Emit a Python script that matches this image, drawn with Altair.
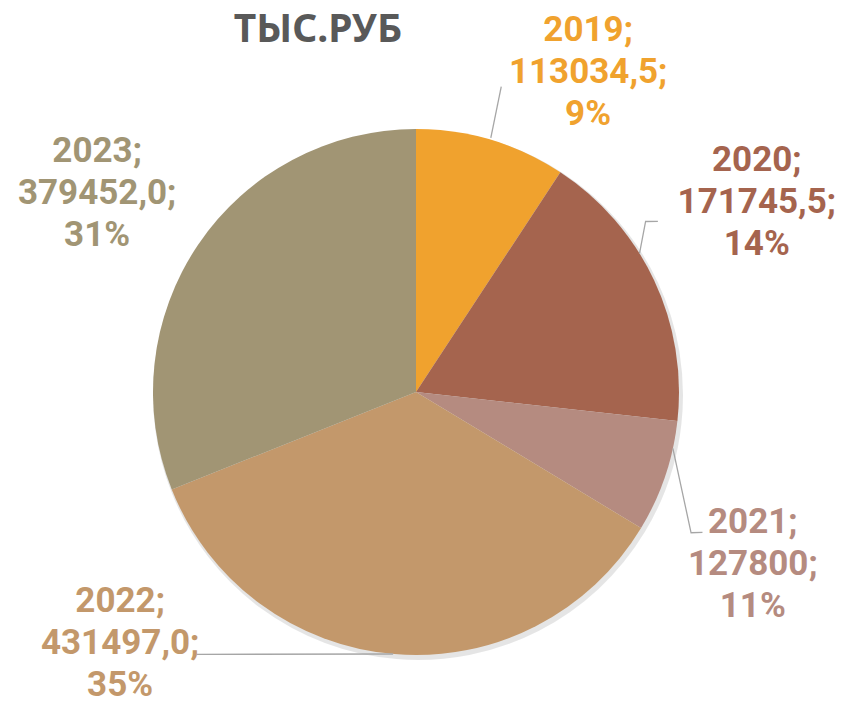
import math
import altair as alt
import pandas as pd

# ---- data ----
years = ["2019", "2020", "2021", "2022", "2023"]
# slice sizes as drawn in the picture (thousand rubles)
slice_values = [113034.5, 214000.0, 84300.0, 431497.0, 379452.0]
# texts printed on the data labels
label_values = ["113034,5", "171745,5", "127800", "431497,0", "379452,0"]
label_percents = ["9%", "14%", "11%", "35%", "31%"]
colors = ["#F0A22E", "#A5644E", "#B58B80", "#C3986B", "#A19574"]

# ---- layout (chart pixel space) ----
CX, CY, R = 408, 384, 263
LINE_H = 42
label_angle_deg = [28.3, 60.9, 117.0, 229.7, 302.0]
label_radius = [363, 390, 378, 388, 376]
# leader lines: list of (angle deg, radius) polar points per year
leaders = {
    "2019": [(16.4, 265), (15.6, 317)],
    "2020": [(58.2, 263), (53.4, 286), (54.8, 296)],
    "2021": [(102.4, 263), (117.1, 309), (116.1, 319)],
    "2022": [(185.0, 263), (219.9, 342)],
}


def polar(a_deg, r):
    a = math.radians(a_deg)
    return CX + r * math.sin(a), CY - r * math.cos(a)


pie_df = pd.DataFrame({"year": years, "value": slice_values,
                       "order": list(range(len(years)))})

lab_rows = []
for y, v, p, a, r in zip(years, label_values, label_percents, label_angle_deg, label_radius):
    x0, y0 = polar(a, r)
    # text block is anchored at its first line: shift up by one line to center it
    lab_rows.append({"year": y, "text": f"{y};\n{v};\n{p}", "lx": x0, "ly": y0 - LINE_H})
lab_df = pd.DataFrame(lab_rows)

lead_rows = []
for y, pts in leaders.items():
    for i, (a, r) in enumerate(pts):
        px, py = polar(a, r)
        lead_rows.append({"year": y, "i": i, "px": px, "py": py})
lead_df = pd.DataFrame(lead_rows)

color_scale = alt.Scale(domain=years, range=colors)

shadow = alt.Chart(pie_df).mark_arc(radius=R + 2, color="#000000", opacity=0.10).encode(
    theta=alt.Theta("value:Q", stack=True),
    order=alt.Order("order:Q"),
    x=alt.value(CX + 2), y=alt.value(CY + 3),
)

pie = alt.Chart(pie_df).mark_arc(radius=R).encode(
    theta=alt.Theta("value:Q", stack=True),
    color=alt.Color("year:N", scale=color_scale, legend=None),
    order=alt.Order("order:Q"),
    x=alt.value(CX), y=alt.value(CY),
)

lines = alt.Chart(lead_df).mark_line(color="#A6A6A6", strokeWidth=1.3).encode(
    x=alt.X("px:Q", scale=None),
    y=alt.Y("py:Q", scale=None),
    detail="year:N",
    order="i:Q",
)

labels = alt.Chart(lab_df).mark_text(
    font="Roboto", fontWeight="bold", fontSize=35, lineBreak="\n",
    lineHeight=LINE_H, align="center", baseline="middle",
).encode(
    x=alt.X("lx:Q", scale=None),
    y=alt.Y("ly:Q", scale=None),
    text="text:N",
    color=alt.Color("year:N", scale=color_scale, legend=None),
)

title = alt.Chart(pd.DataFrame({"t": ["ТЫС.РУБ"]})).mark_text(
    font="Noto Sans", fontWeight="bold", fontSize=39, color="#595959",
    align="center", baseline="middle",
).encode(text="t:N", x=alt.value(310), y=alt.value(22))

chart = alt.layer(shadow, pie, lines, labels, title).properties(
    width=830, height=692, padding=0, background="white",
    autosize=alt.AutoSizeParams(type="none"),
).configure_view(stroke="transparent", strokeWidth=0)

chart.save("out.html", embed_options={"renderer": "svg", "actions": False})
